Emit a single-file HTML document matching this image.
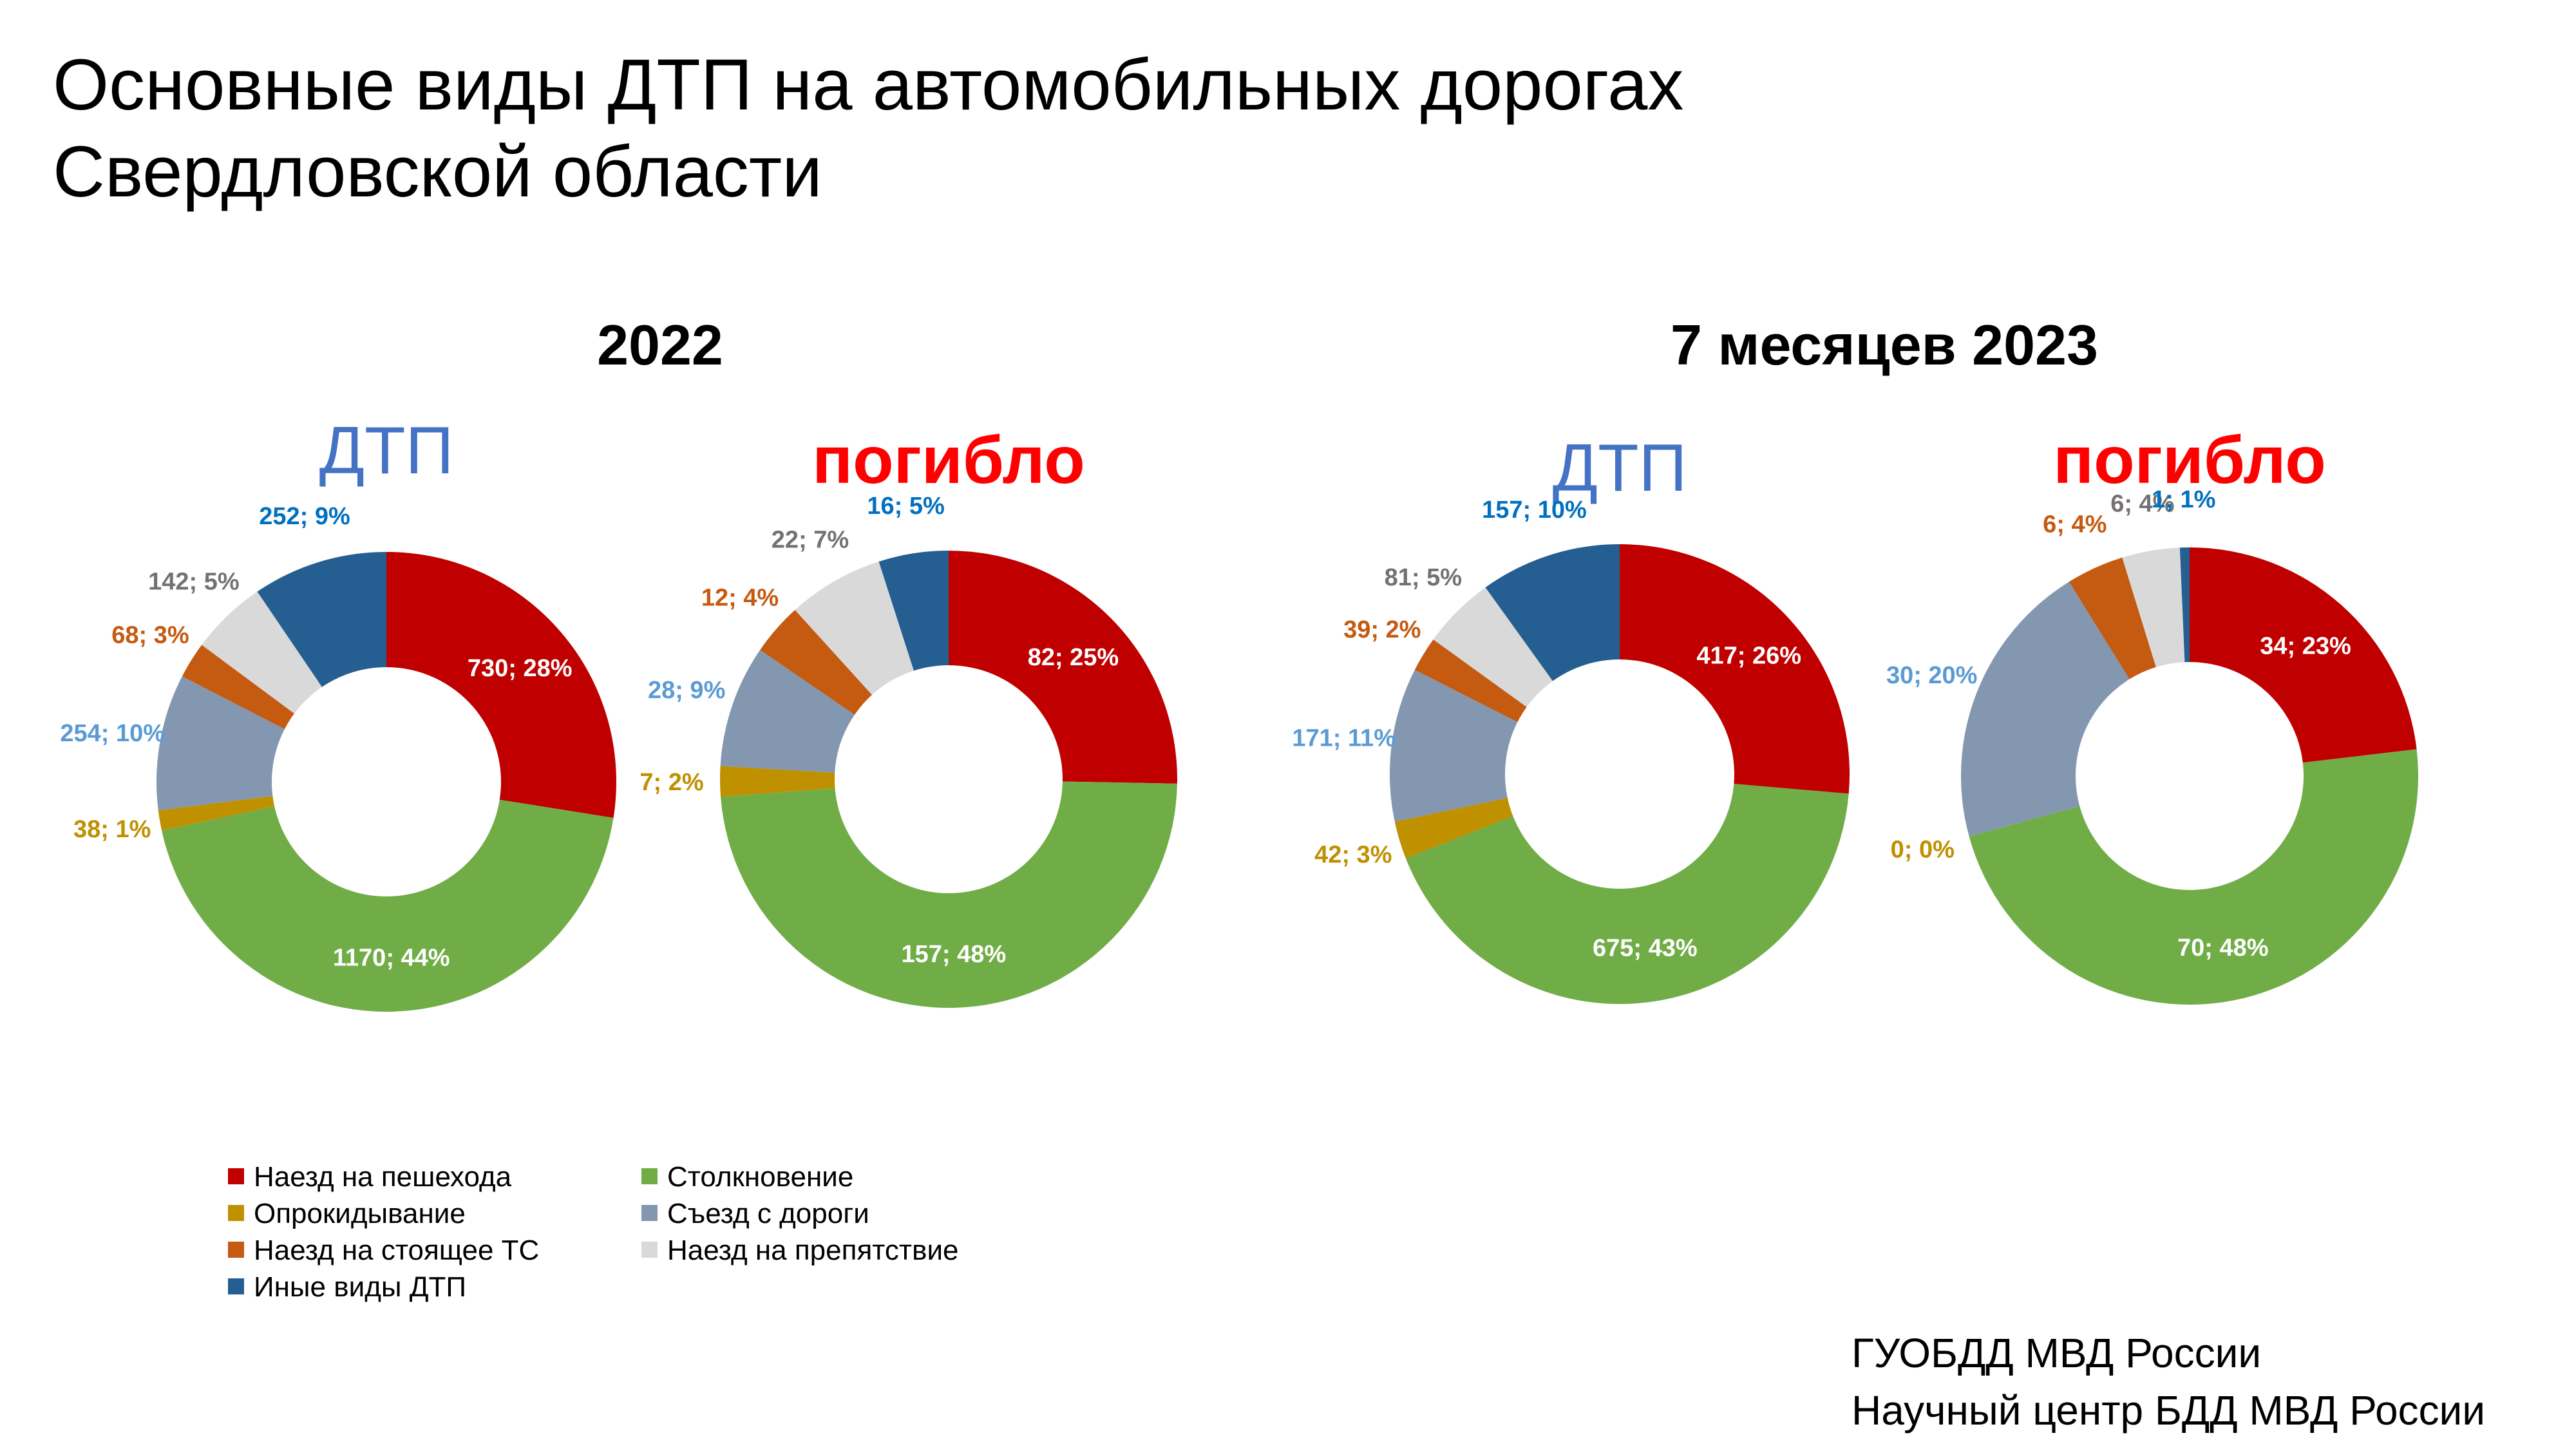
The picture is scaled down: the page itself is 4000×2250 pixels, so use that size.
<!DOCTYPE html>
<html><head><meta charset="utf-8"><style>
html,body{margin:0;padding:0;background:#fff;}
svg{display:block;font-family:"Liberation Sans","DejaVu Sans",sans-serif;}
</style></head><body>
<svg id="chart" width="4000" height="2250" viewBox="0 0 4000 2250" xmlns="http://www.w3.org/2000/svg">
<text x="82" y="170" font-size="112" fill="#000">Основные виды ДТП на автомобильных дорогах</text>
<text x="82" y="305" font-size="112" fill="#000">Свердловской области</text>
<text x="1025" y="566" font-size="88" font-weight="bold" text-anchor="middle">2022</text>
<text x="2926" y="566" font-size="88" font-weight="bold" text-anchor="middle">7 месяцев 2023</text>
<g id="donuts"></g>
<g id="legend"></g>
<text x="2875" y="2123" font-size="64">ГУОБДД МВД России</text>
<text x="2875" y="2212" font-size="64">Научный центр БДД МВД России</text>
</svg>
<script>
const categories = ["Наезд на пешехода","Столкновение","Опрокидывание","Съезд с дороги","Наезд на стоящее ТС","Наезд на препятствие","Иные виды ДТП"];
const dtp2022 = [730,1170,38,254,68,142,252];
const dead2022 = [82,157,7,28,12,22,16];
const dtp2023 = [417,675,42,171,39,81,157];
const dead2023 = [34,70,0,30,6,6,1];
const pct_dtp2022 = [28,44,1,10,3,5,9];
const pct_dead2022 = [25,48,2,9,4,7,5];
const pct_dtp2023 = [26,43,3,11,2,5,10];
const pct_dead2023 = [23,48,0,20,4,4,1];
const chartTitles = ["ДТП","погибло","ДТП","погибло"];

const colors = ["#C00000","#70AD47","#BF9000","#8497B0","#C55A11","#D9D9D9","#255E91"];
const labelColors = ["#fff","#fff","#BF9000","#5B9BD5","#C55A11","#767171","#0070C0"];
const NS = "http://www.w3.org/2000/svg";
const donuts = [
  {vals:dtp2022, pct:pct_dtp2022, cx:600, cy:1214, R:357, r:178, ty:735, tc:"#4472C4"},
  {vals:dead2022, pct:pct_dead2022, cx:1473, cy:1210, R:355, r:177, ty:750, tc:"#FF0000"},
  {vals:dtp2023, pct:pct_dtp2023, cx:2515, cy:1202, R:357, r:178, ty:762, tc:"#4472C4"},
  {vals:dead2023, pct:pct_dead2023, cx:3400, cy:1205, R:355, r:177, ty:750, tc:"#FF0000"}
];
function pt(cx,cy,rad,a){return [cx+rad*Math.sin(a), cy-rad*Math.cos(a)];}
const root = document.getElementById('donuts');
donuts.forEach((d,di)=>{
  const g = document.createElementNS(NS,'g');
  
  
  root.appendChild(g);
  const t = document.createElementNS(NS,'text');
  
  
  t.setAttribute('x',d.cx); t.setAttribute('y',d.ty);
  t.setAttribute('font-size','104'); t.setAttribute('font-weight', di%2 ? 'bold':'normal');
  t.setAttribute('fill',d.tc); t.setAttribute('text-anchor','middle');
  t.textContent = chartTitles[di]; g.appendChild(t);
  const total = d.vals.reduce((a,b)=>a+b,0);
  let acc = 0;
  d.vals.forEach((v,i)=>{
    const a0 = acc/total*2*Math.PI; acc += v; const a1 = acc/total*2*Math.PI;
    if (v>0){
      const large = (a1-a0)>Math.PI?1:0;
      const p0=pt(d.cx,d.cy,d.R,a0), p1=pt(d.cx,d.cy,d.R,a1), q1=pt(d.cx,d.cy,d.r,a1), q0=pt(d.cx,d.cy,d.r,a0);
      const p = document.createElementNS(NS,'path');
      
      
      p.setAttribute('d',`M${p0[0]},${p0[1]} A${d.R},${d.R} 0 ${large} 1 ${p1[0]},${p1[1]} L${q1[0]},${q1[1]} A${d.r},${d.r} 0 ${large} 0 ${q0[0]},${q0[1]} Z`);
      p.setAttribute('fill',colors[i]);
      g.appendChild(p);
    }
    const am = (a0+a1)/2;
    const inside = i<2;
    let lp;
    if (inside) lp = pt(d.cx,d.cy,(d.R+d.r)/2+5,am);
    else lp = pt(d.cx,d.cy,d.R+75,am);
    const lt = document.createElementNS(NS,'text');
    
    
    lt.setAttribute('x',lp[0]); lt.setAttribute('y',lp[1]+13);
    lt.setAttribute('font-size','38'); lt.setAttribute('font-weight','bold');
    lt.setAttribute('fill',labelColors[i]); lt.setAttribute('text-anchor','middle');
    lt.textContent = v+'; '+d.pct[i]+'%';
    g.appendChild(lt);
  });
});
const leg = document.getElementById('legend');
categories.forEach((c,i)=>{
  const col = i%2, row = Math.floor(i/2);
  const x = col? 996:354, y = 1827 + row*57;
  const r = document.createElementNS(NS,'rect');
  
  
  r.setAttribute('x',x); r.setAttribute('y',y-13); r.setAttribute('width',25); r.setAttribute('height',25);
  r.setAttribute('fill',colors[i]); leg.appendChild(r);
  const t = document.createElementNS(NS,'text');
  
  
  t.setAttribute('x',x+40); t.setAttribute('y',y+15);
  t.setAttribute('font-size','44'); t.textContent = c; leg.appendChild(t);
});
</script>
</body></html>
